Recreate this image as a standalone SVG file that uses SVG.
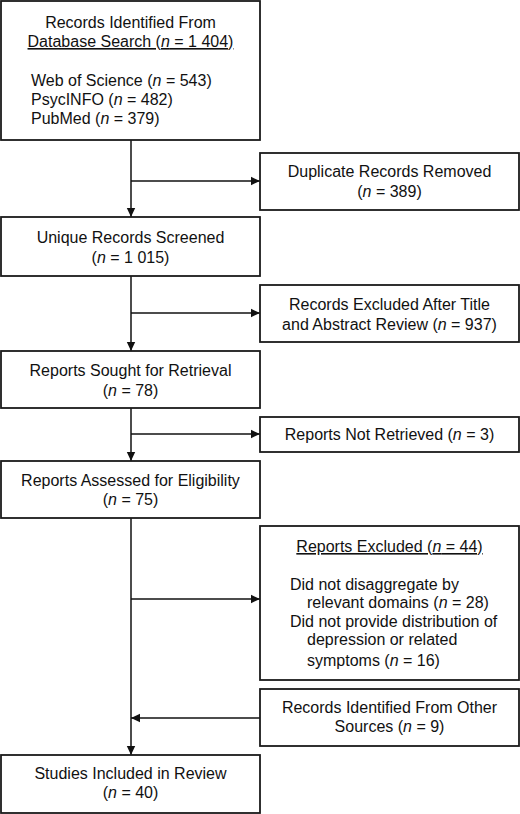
<svg xmlns="http://www.w3.org/2000/svg" width="520" height="814" viewBox="0 0 520 814">
<style>
  .box { fill: #ffffff; stroke: #1a1a1a; stroke-width: 1.8; }
  .t { font-family: "Liberation Sans", Arial, sans-serif; font-size: 16px; fill: #111111; }
  .c { text-anchor: middle; }
  .u { text-decoration: underline; }
  .line { fill: none; stroke: #111111; stroke-width: 1.5; }
</style>
<defs>
  <marker id="arr" markerUnits="userSpaceOnUse" markerWidth="10" markerHeight="10" refX="9" refY="5" orient="auto">
    <path d="M0,0.8 L9,5 L0,9.2 Z" fill="#111111"/>
  </marker>
</defs>
<rect width="520" height="814" fill="#ffffff"/>

<g id="connectors">
  <line class="line" x1="131" y1="140" x2="131" y2="217" marker-end="url(#arr)"/>
  <line class="line" x1="131" y1="181" x2="260" y2="181" marker-end="url(#arr)"/>
  <line class="line" x1="131" y1="276" x2="131" y2="351" marker-end="url(#arr)"/>
  <line class="line" x1="131" y1="313" x2="260" y2="313" marker-end="url(#arr)"/>
  <line class="line" x1="131" y1="408" x2="131" y2="461" marker-end="url(#arr)"/>
  <line class="line" x1="131" y1="434" x2="260" y2="434" marker-end="url(#arr)"/>
  <line class="line" x1="131" y1="518" x2="131" y2="755" marker-end="url(#arr)"/>
  <line class="line" x1="131" y1="599" x2="260" y2="599" marker-end="url(#arr)"/>
  <line class="line" x1="260" y1="718" x2="131" y2="718" marker-end="url(#arr)"/>
</g>

<g id="records-database">
  <rect class="box" x="1" y="1" width="259" height="139"/>
  <text class="t c" x="130.5" y="28">Records Identified From</text>
  <text class="t c u" x="130.5" y="47">Database Search (<tspan font-style="italic">n</tspan> = 1 404)</text>
  <text class="t" x="31" y="86">Web of Science (<tspan font-style="italic">n</tspan> = 543)</text>
  <text class="t" x="31" y="105">PsycINFO (<tspan font-style="italic">n</tspan> = 482)</text>
  <text class="t" x="31" y="124">PubMed (<tspan font-style="italic">n</tspan> = 379)</text>
</g>

<g id="duplicates">
  <rect class="box" x="260" y="153" width="259" height="57"/>
  <text class="t c" x="389.5" y="177">Duplicate Records Removed</text>
  <text class="t c" x="389.5" y="197">(<tspan font-style="italic">n</tspan> = 389)</text>
</g>

<g id="unique">
  <rect class="box" x="1" y="217" width="259" height="59"/>
  <text class="t c" x="130.5" y="243">Unique Records Screened</text>
  <text class="t c" x="130.5" y="263">(<tspan font-style="italic">n</tspan> = 1 015)</text>
</g>

<g id="excluded-title">
  <rect class="box" x="260" y="285" width="259" height="57"/>
  <text class="t c" x="389.5" y="310">Records Excluded After Title</text>
  <text class="t c" x="389.5" y="330">and Abstract Review (<tspan font-style="italic">n</tspan> = 937)</text>
</g>

<g id="sought">
  <rect class="box" x="1" y="351" width="259" height="57"/>
  <text class="t c" x="130.5" y="376">Reports Sought for Retrieval</text>
  <text class="t c" x="130.5" y="396">(<tspan font-style="italic">n</tspan> = 78)</text>
</g>

<g id="not-retrieved">
  <rect class="box" x="260" y="417" width="259" height="35"/>
  <text class="t c" x="389.5" y="440">Reports Not Retrieved (<tspan font-style="italic">n</tspan> = 3)</text>
</g>

<g id="assessed">
  <rect class="box" x="1" y="461" width="259" height="57"/>
  <text class="t c" x="130.5" y="486">Reports Assessed for Eligibility</text>
  <text class="t c" x="130.5" y="505">(<tspan font-style="italic">n</tspan> = 75)</text>
</g>

<g id="reports-excluded">
  <rect class="box" x="260" y="526" width="259" height="154"/>
  <text class="t c u" x="389.5" y="552">Reports Excluded (<tspan font-style="italic">n</tspan> = 44)</text>
  <text class="t" x="290" y="590">Did not disaggregate by</text>
  <text class="t" x="307" y="608">relevant domains (<tspan font-style="italic">n</tspan> = 28)</text>
  <text class="t" x="290" y="627">Did not provide distribution of</text>
  <text class="t" x="307" y="645">depression or related</text>
  <text class="t" x="307" y="666">symptoms (<tspan font-style="italic">n</tspan> = 16)</text>
</g>

<g id="other-sources">
  <rect class="box" x="260" y="689" width="259" height="57"/>
  <text class="t c" x="389.5" y="713">Records Identified From Other</text>
  <text class="t c" x="389.5" y="732">Sources (<tspan font-style="italic">n</tspan> = 9)</text>
</g>

<g id="included">
  <rect class="box" x="1" y="755" width="259" height="58"/>
  <text class="t c" x="130.5" y="779">Studies Included in Review</text>
  <text class="t c" x="130.5" y="798">(<tspan font-style="italic">n</tspan> = 40)</text>
</g>
</svg>
